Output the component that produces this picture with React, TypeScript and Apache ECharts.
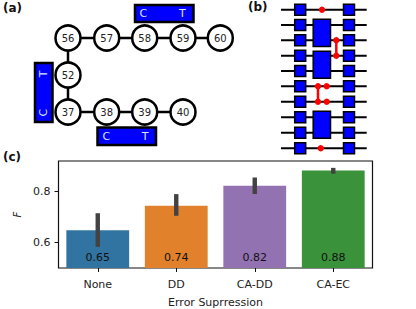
import React, { useEffect, useRef } from "react";
import * as echarts from "echarts";

const categories = ["None", "DD", "CA-DD", "CA-EC"];
const fidelity = [0.648, 0.744, 0.823, 0.883];
const valueLabels = ["0.65", "0.74", "0.82", "0.88"];
const errLow = [0.583, 0.705, 0.79, 0.87];
const errHigh = [0.715, 0.79, 0.855, 0.893];
const barColors = ["#3274a1", "#e1812c", "#9372b2", "#3a923a"];
const yTicks = [0.6, 0.8];

const topQubits = ["56", "57", "58", "59", "60"];
const midQubits = ["52"];
const bottomQubits = ["37", "38", "39", "40"];

const FONT = "DejaVu Sans";

function panelA(): any[] {
  const xs = [68, 106.7, 144.7, 183, 220.3];
  const els: any[] = [];
  const edge = (x1: number, y1: number, x2: number, y2: number) =>
    els.push({ type: "line", shape: { x1, y1, x2, y2 }, style: { stroke: "#000", lineWidth: 2.5 } });
  edge(xs[0], 38, xs[4], 38);
  edge(xs[0], 38, xs[0], 112);
  edge(xs[0], 112, xs[3], 112);
  const node = (label: string, x: number, y: number) => {
    els.push({ type: "circle", shape: { cx: x, cy: y, r: 12.5 }, style: { fill: "#fff", stroke: "#000", lineWidth: 2.5 } });
    els.push({ type: "text", x, y, style: { text: label, fill: "#222", font: `10px '${FONT}'`, align: "center", verticalAlign: "middle" } });
  };
  topQubits.forEach((q, i) => node(q, xs[i], 38));
  midQubits.forEach((q) => node(q, xs[0], 75));
  bottomQubits.forEach((q, i) => node(q, xs[i], 112));
  const box = (x: number, y: number, width: number, height: number) =>
    els.push({ type: "rect", shape: { x, y, width, height }, style: { fill: "#0000ff", stroke: "#000", lineWidth: 2.5 } });
  const letter = (t: string, x: number, y: number, rotation = 0) =>
    els.push({ type: "text", x, y, rotation, style: { text: t, fill: "#dfe6ff", font: `11px '${FONT}'`, align: "center", verticalAlign: "middle" } });
  box(135, 5, 58.5, 17);
  letter("C", 143.3, 13.5);
  letter("T", 182.3, 13.5);
  box(35, 63, 17.5, 59);
  letter("T", 43.3, 74, Math.PI / 2);
  letter("C", 43.3, 112.7, Math.PI / 2);
  box(97.5, 127.5, 58.5, 17.5);
  letter("C", 106.3, 136.5);
  letter("T", 145, 136.5);
  return els;
}

function panelB(): any[] {
  const ys = [9.7, 25, 40.3, 55.7, 71, 86.3, 101.7, 117.3, 132.7, 148.3];
  const els: any[] = [];
  ys.forEach((y) =>
    els.push({ type: "line", shape: { x1: 281, y1: y, x2: 366.7, y2: y }, style: { stroke: "#000", lineWidth: 2 } })
  );
  const rect = (x: number, y: number, width: number, height: number) =>
    els.push({ type: "rect", shape: { x, y, width, height }, style: { fill: "#0000ff", stroke: "#000", lineWidth: 1.5 } });
  ys.forEach((y) => {
    rect(294.7, y - 5.5, 11, 11);
    rect(343.5, y - 5.5, 11, 11);
  });
  rect(313.2, 19.2, 17.3, 27.3);
  rect(313.2, 51.2, 17.3, 27);
  rect(313.2, 111.2, 17.3, 27);
  const dot = (cx: number, cy: number) =>
    els.push({ type: "circle", shape: { cx, cy, r: 3.2 }, style: { fill: "#ff0000" } });
  const link = (x: number, y1: number, y2: number) => {
    els.push({ type: "line", shape: { x1: x, y1, x2: x, y2 }, style: { stroke: "#ff0000", lineWidth: 2.5 } });
    dot(x, y1);
    dot(x, y2);
  };
  dot(322, ys[0]);
  link(336.3, ys[2], ys[3]);
  link(318, ys[5], ys[6]);
  dot(326.7, ys[5]);
  dot(326.7, ys[6]);
  dot(320.7, ys[9]);
  return els;
}

function panelLetter(t: string, x: number, y: number) {
  return { type: "text", x, y, style: { text: t, fill: "#111", font: `bold 12px '${FONT}'`, align: "left", verticalAlign: "middle" } };
}

export default function App() {
  const ref = useRef<HTMLDivElement>(null);
  useEffect(() => {
    const chart = echarts.init(ref.current!, undefined, { renderer: "svg" });
    chart.setOption({
      animation: false,
      backgroundColor: "#fff",
      textStyle: { fontFamily: FONT },
      grid: { left: 58.5, right: 43.5, top: 161, bottom: 40, show: true, borderColor: "#111", borderWidth: 1.2, backgroundColor: "transparent" },
      xAxis: {
        type: "category",
        data: categories,
        name: "Error Suprression",
        nameLocation: "middle",
        nameGap: 29,
        nameTextStyle: { fontSize: 11, color: "#222", fontFamily: FONT },
        axisLine: { show: false },
        axisTick: { show: true, alignWithLabel: true, length: 4, lineStyle: { color: "#111", width: 1 } },
        axisLabel: { fontSize: 11, color: "#222", margin: 11, fontFamily: FONT },
      },
      yAxis: {
        type: "value",
        min: 0.5,
        max: 0.92,
        name: "F",
        nameLocation: "middle",
        nameGap: 36,
        nameTextStyle: { fontSize: 10, fontStyle: "italic", color: "#222", fontFamily: FONT },
        splitLine: { show: false },
        axisLine: { show: false },
        axisTick: { show: true, length: 4, customValues: yTicks, lineStyle: { color: "#111", width: 1 } },
        axisLabel: { fontSize: 11, color: "#222", margin: 8, customValues: yTicks, formatter: (v: number) => v.toFixed(1), fontFamily: FONT },
      },
      series: [
        {
          type: "bar",
          barWidth: "80%",
          data: fidelity.map((value, i) => ({
            value,
            itemStyle: { color: barColors[i] },
            label: {
              show: true,
              position: "insideBottom",
              distance: 5,
              formatter: valueLabels[i],
              fontSize: 11,
              color: "#111",
              fontFamily: FONT,
            },
          })),
        },
        {
          type: "custom",
          data: errLow.map((low, i) => [i, low, errHigh[i]]),
          encode: { x: 0, y: [1, 2] },
          z: 5,
          renderItem: (_p: any, api: any) => {
            const a = api.coord([api.value(0), api.value(1)]);
            const b = api.coord([api.value(0), api.value(2)]);
            return {
              type: "rect",
              shape: { x: a[0] - 2.2, y: b[1], width: 4.4, height: a[1] - b[1] },
              style: { fill: "#424242" },
            };
          },
        },
      ],
      graphic: [
        ...panelA(),
        ...panelB(),
        panelLetter("(a)", 3, 8),
        panelLetter("(b)", 248, 7),
        panelLetter("(c)", 3, 157),
      ],
    });
    return () => chart.dispose();
  }, []);
  return <div ref={ref} style={{ position: "fixed", left: 0, top: 0, width: 416, height: 309 }} />;
}
